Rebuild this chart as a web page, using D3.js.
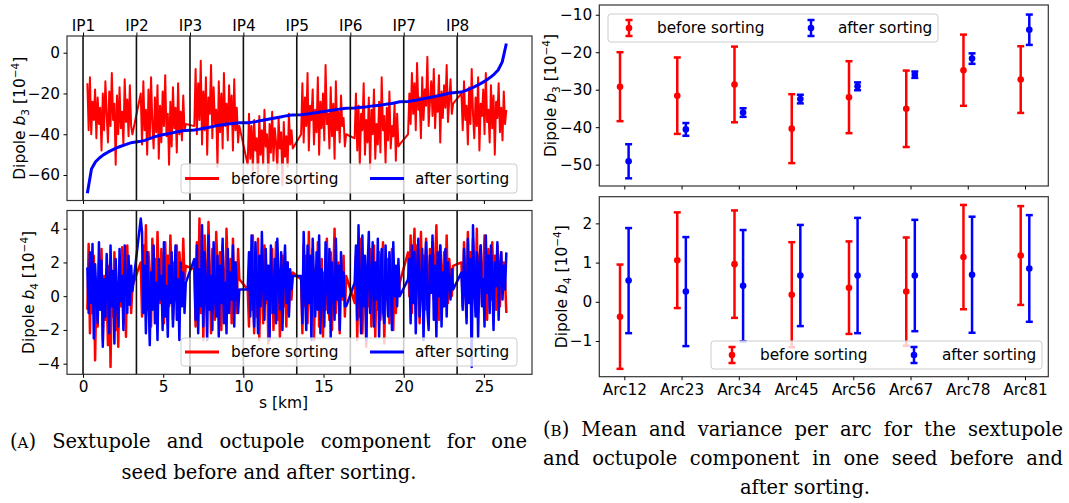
<!DOCTYPE html>
<html>
<head>
<meta charset="utf-8">
<script src="https://cdn.jsdelivr.net/npm/d3@7"></script>
<style>
  body { margin: 0; background: #fff; }
  text { font-family: "DejaVu Sans", sans-serif; fill: #000; }
  .cap { font-family: "DejaVu Serif", serif; }
</style>
</head>
<body>
<svg id="fig" width="1069" height="503"></svg>
<script>
// interaction points and arcs (km)
const ipNames = ["IP1", "IP2", "IP3", "IP4", "IP5", "IP6", "IP7", "IP8"];
const ipPos = [0, 3.33, 6.67, 10.0, 13.33, 16.67, 20.0, 23.33];
const arcNames = ["Arc12", "Arc23", "Arc34", "Arc45", "Arc56", "Arc67", "Arc78", "Arc81"];
const arcStart = [0.27, 3.6, 6.94, 10.27, 13.6, 16.94, 20.27, 23.6];
const arcEnd = [3.08, 6.41, 9.75, 13.08, 16.41, 19.75, 23.08, 26.4];

// b3 per magnet, before sorting
const b3Before = [
  [-15, -38, -12, -40, -24, -33, -18, -42, -22, -35, -27, -48, -20, -38, -14, -30, -44, -19, -36, -10, -33, -25, -55, -21, -40, -17, -37, -29, -45, -13, -34, -23, -41, -16, -36, -40],
  [-20, -45, -14, -38, -28, -50, -18, -42, -12, -35, -47, -22, -39, -16, -52, -26, -44, -19, -36, -11, -41, -30, -55, -24, -46, -17, -37, -27, -49, -15, -40, -29, -43, -21, -38, -35],
  [-36, -8, -40, -15, -33, -4, -45, -19, -38, -12, -50, -22, -30, -6, -42, -17, -35, -28, -56, -14, -39, -20, -47, -10, -36, -25, -43, -16, -34, -21, -48, -13, -38, -27, -44, -36],
  [-55, -30, -52, -36, -58, -33, -48, -42, -62, -31, -50, -38, -55, -28, -46, -40, -60, -35, -49, -29, -53, -37, -44, -57, -32, -47, -39, -65, -34, -51, -41, -56, -30, -45, -38, -47],
  [-40, -15, -44, -22, -36, -10, -48, -26, -33, -18, -45, -28, -39, -12, -50, -24, -37, -20, -43, -6, -35, -30, -47, -17, -41, -25, -52, -14, -38, -29, -44, -21, -36, -32, -46, -40],
  [-42, -20, -48, -26, -55, -30, -38, -15, -50, -33, -44, -22, -57, -28, -40, -18, -52, -35, -45, -24, -49, -12, -38, -31, -54, -27, -43, -19, -47, -36, -41, -25, -53, -30, -46, -45],
  [-40, -20, -35, -10, -30, -15, -38, -5, -28, -22, -42, -12, -33, -18, -26, -2, -36, -24, -14, -31, -8, -37, -21, -29, -11, -44, -19, -32, -16, -27, -6, -34, -23, -13, -30, -25],
  [-20, -38, -14, -33, -26, -45, -17, -35, -8, -30, -42, -22, -36, -12, -48, -25, -31, -18, -40, -10, -34, -28, -44, -16, -37, -21, -50, -24, -32, -15, -39, -27, -43, -19, -35, -28]
];

// b3 after sorting (sorted along the ring)
const b3After = [
  [-69, -57, -53.5, -51.5, -50, -48.8, -47.8, -46.8, -46, -45.3, -44.6, -44.0],
  [-43.4, -43.0, -42.3, -41.5, -40.9, -40.4, -40.0, -39.6, -39.2, -38.8, -38.4, -38.1],
  [-37.9, -37.6, -37.2, -36.8, -36.4, -36.0, -35.6, -35.3, -35.0, -34.8, -34.6, -34.4],
  [-34.3, -34.1, -33.8, -33.4, -33.0, -32.6, -32.3, -31.9, -31.5, -31.1, -30.8, -30.5],
  [-30.4, -30.2, -29.9, -29.6, -29.3, -29.0, -28.7, -28.4, -28.1, -27.8, -27.5, -27.3],
  [-27.1, -26.9, -26.7, -26.5, -26.2, -26.0, -25.8, -25.5, -25.2, -24.9, -24.5, -24.1],
  [-23.9, -23.6, -23.3, -22.9, -22.5, -22.1, -21.7, -21.3, -20.9, -20.4, -19.9, -19.6],
  [-19.3, -18.6, -17.8, -16.9, -15.9, -14.8, -13.6, -12.2, -10.6, -8.5, -4.5, 4.5]
];

// b4 per magnet, before sorting
const b4Before = [
  [-0.8, 3.1, -2.2, 1.5, -1.0, 2.4, -3.8, 0.6, -1.8, 2.0, -0.4, 2.8, -2.6, 1.2, -1.4, 0.2, -2.9, 1.8, -4.2, 0.9, -1.2, 2.6, -2.0, 0.4, -3.0, 1.6, -0.6, 2.9, -1.6, 0.8, -2.4, 3.0, -0.2, 1.4, -1.0, 0.6],
  [2.0, -1.2, 3.0, 0.4, 4.2, -0.8, 2.6, 1.0, -1.8, 3.4, 0.2, 2.2, -1.0, 3.8, 0.8, -0.4, 2.8, 1.4, -1.6, 3.2, 0.6, 2.4, -0.6, 3.6, 1.2, -1.4, 2.0, 0.0, 3.0, -0.8, 2.6, 1.6, -0.2, 3.4, 1.0, 1.8],
  [1.6, -1.8, 3.2, 0.2, 4.6, -1.0, 2.4, -2.6, 3.6, 0.8, -0.6, 4.4, 1.2, -2.2, 2.8, 0.4, -1.4, 3.8, 1.8, -0.8, 2.6, -2.0, 3.0, 0.6, -1.2, 4.0, 1.4, -0.4, 2.2, -1.6, 3.4, 0.0, 2.0, -1.0, 2.8, 1.0],
  [0.4, -1.8, 2.6, -0.8, 3.6, -2.2, 1.4, -1.2, 3.4, -2.6, 0.8, 2.2, -1.6, 3.0, -0.4, 1.8, -2.8, 1.0, -1.0, 2.8, -2.0, 0.6, 3.2, -1.4, 1.6, -2.4, 0.2, 2.4, -0.6, 1.2, -1.8, 2.0, -1.0, 1.4, -0.2, 1.4],
  [1.0, -2.2, 3.0, -0.6, 2.4, -1.6, 3.8, 0.2, -1.2, 2.8, -2.6, 1.6, -0.4, 3.2, -1.8, 0.8, 2.2, -2.4, 1.4, -0.8, 3.4, 0.0, -1.4, 2.6, -2.0, 1.2, 4.0, -1.0, 0.6, 2.0, -2.2, 1.8, -0.2, 2.4, -1.2, 1.2],
  [-0.4, 2.4, -2.6, 1.6, -1.2, 3.4, -2.2, 0.8, 2.0, -3.0, 1.2, -0.6, 2.8, -1.8, 0.4, 3.0, -2.4, 1.0, -0.8, 2.6, -1.4, 0.2, 3.2, -2.8, 1.4, -0.2, 2.2, -1.6, 0.6, 2.8, -2.0, 1.8, -1.0, 1.2, 0.0, 0.8],
  [2.6, 0.0, 3.6, -1.0, 2.2, 4.0, -0.4, 3.0, 1.0, -1.6, 3.8, 0.6, 2.4, -0.8, 3.4, 1.4, -1.2, 2.8, 0.2, 3.2, -0.2, 2.0, 4.2, 0.8, -1.4, 3.0, 1.6, -0.6, 2.6, 0.4, 3.6, -0.4, 2.2, 1.2, 0.0, 1.8],
  [2.0, -0.6, 3.2, 1.0, -1.2, 3.8, 0.4, 2.6, -0.8, 3.4, 1.6, 0.0, 4.0, -1.0, 2.2, 3.0, -0.4, 1.4, 3.6, 0.6, -1.4, 2.8, 1.2, -0.2, 3.2, 0.8, 2.4, -0.8, 3.0, 1.8, -0.6, 2.6, 0.2, 2.0, 1.0, -1.0]
];

// b4 per magnet, after sorting
const b4After = [
  [1.7, -1.0, 2.6, -0.4, 3.1, -2.5, 1.9, 0.2, -1.6, 3.2, -0.8, 2.1, -3.0, 1.0, -1.2, 2.5, 0.4, -2.2, 3.0, -0.6, 1.5, -2.8, 2.2, 0.0, -1.8, 2.8, -0.3, 1.2, -2.0, 3.0, 0.6, -1.0, 2.4, -0.5, 1.8, 0.3],
  [4.6, 3.8, -1.0, 1.8, -2.2, 2.6, 0.2, -2.9, 1.4, -0.8, 3.0, -1.6, 0.8, -2.6, 2.2, -0.2, 1.2, -2.0, 3.2, -1.2, 0.6, -2.4, 1.8, -0.4, 2.6, -1.8, 0.2, 3.0, -1.4, 1.0, -2.6, 2.0, -0.6, 1.4, -1.0, 0.8],
  [2.2, -1.4, 3.0, -2.2, 1.6, -0.6, 4.2, -1.8, 2.6, 0.4, -2.6, 3.6, -0.8, 1.2, -2.0, 3.2, 0.0, -1.2, 2.4, -2.4, 1.8, -0.4, 3.4, -1.6, 0.8, -2.2, 2.8, -1.0, 1.4, -0.2, 3.0, -1.8, 2.0, 0.6, -1.0, 0.4],
  [0.4, 2.6, -1.2, 3.6, 0.0, -1.8, 3.2, 1.0, -2.2, 2.4, -0.6, 3.8, 0.6, -1.4, 2.8, -0.2, 1.8, -2.6, 3.0, 0.2, -1.0, 2.2, -1.6, 3.4, 0.8, -0.8, 2.6, -2.0, 1.4, 3.0, -0.4, 2.0, -1.2, 1.6, 0.4, 1.2],
  [1.2, -1.6, 3.8, 0.4, -2.0, 3.0, -0.4, 2.4, -2.6, 3.4, 0.8, -1.2, 2.6, -0.8, 3.6, -2.2, 1.6, 0.2, -1.8, 3.2, 1.0, -1.0, 2.8, -2.4, 2.0, 0.6, -1.4, 3.4, -0.2, 1.8, -2.0, 2.6, 0.0, 1.4, -0.6, -0.6],
  [0.8, 3.0, -1.4, 4.2, 0.2, -2.2, 3.6, -0.6, 2.4, -2.6, 1.6, 3.8, -1.0, 0.6, 3.2, -1.8, 2.0, -0.2, 3.4, -2.4, 1.2, 2.8, -0.8, -1.6, 3.0, 0.4, -1.2, 2.6, 1.0, -2.0, 3.2, 0.0, 1.8, -0.6, 2.2, 0.0],
  [1.0, 2.2, -1.6, 3.0, -0.4, 2.6, -2.2, 1.6, 3.4, -1.2, 0.4, 2.8, -2.6, 1.2, 3.2, -0.8, -2.0, 2.4, 0.2, 3.6, -1.4, 1.8, -2.4, 2.6, 0.0, 3.0, -1.8, 1.4, -0.6, 2.8, -1.2, 2.0, 0.8, -0.2, 1.6, 0.4],
  [1.4, -0.8, 2.8, 0.4, -1.6, 3.4, -0.4, 2.2, -4.2, 4.2, 0.8, -1.2, 2.6, -2.4, 1.8, 3.0, -0.6, 1.0, -1.8, 3.6, 0.2, 2.4, -1.0, 3.0, 1.2, -2.0, 2.0, 0.6, 3.2, -1.4, 1.6, 2.6, -0.2, 1.8, 0.4, 2.6]
];

// mean and spread per arc (10^-4)
const b3MeanBefore = [-29.2, -31.6, -28.6, -40.4, -32.0, -35.1, -24.8, -27.3];
const b3ErrBefore = [9.2, 10.2, 10.1, 9.2, 9.6, 10.2, 9.5, 8.9];
const b3MeanAfter = [-49.1, -40.6, -36.1, -32.5, -29.1, -26.0, -21.7, -14.0];
const b3ErrAfter = [4.55, 1.7, 1.15, 1.15, 1.05, 0.85, 1.4, 4.05];
const b4MeanBefore = [-0.38, 1.06, 0.96, 0.18, 0.36, 0.26, 1.14, 1.18];
const b4ErrBefore = [1.33, 1.22, 1.37, 1.34, 1.18, 1.38, 1.33, 1.26];
const b4MeanAfter = [0.54, 0.26, 0.41, 0.67, 0.67, 0.67, 0.69, 0.85];
const b4ErrAfter = [1.34, 1.39, 1.42, 1.29, 1.47, 1.42, 1.48, 1.36];

const RED = "#ff0000", BLUE = "#0000ff", FRAME = "#333";
const TICK_FS = "15.3px", LABEL_FS = "15.5px", LEG_FS = "15.3px";
const CAP_FS = "19.5px", CAP_SC_FS = "15px";

const svg = d3.select("#fig");
const num = d3.format("");

// flatten per-arc lists into (s, value) points along the ring
function alongRing(perArc) {
  const pts = [];
  perArc.forEach((vals, k) => {
    const step = (arcEnd[k] - arcStart[k]) / (vals.length - 1);
    vals.forEach((v, i) => pts.push({ s: arcStart[k] + i * step, v: v }));
  });
  return pts;
}

function frame(g, x0, x1, y0, y1) {
  g.append("rect")
    .attr("x", x0).attr("y", y0)
    .attr("width", x1 - x0).attr("height", y1 - y0)
    .attr("fill", "none").attr("stroke", FRAME).attr("stroke-width", 1.2);
}

function styleAxis(sel, showLabels) {
  sel.select(".domain").remove();
  sel.selectAll(".tick line").attr("stroke", "#000").attr("stroke-width", 1);
  sel.selectAll(".tick text")
    .style("font-size", TICK_FS)
    .style("font-family", "DejaVu Sans")
    .attr("fill", "#000");
  if (!showLabels) sel.selectAll(".tick text").remove();
}

function yLabel(x, y, sub) {
  const t = svg.append("text")
    .attr("transform", `translate(${x},${y}) rotate(-90)`)
    .attr("text-anchor", "middle")
    .attr("dy", "0.35em")
    .style("font-size", LABEL_FS);
  t.append("tspan").text("Dipole ");
  t.append("tspan").style("font-style", "italic").text("b");
  t.append("tspan").attr("dy", 4).style("font-size", "10.5px").text(sub);
  t.append("tspan").attr("dy", -4).text(" [10");
  t.append("tspan").attr("dy", -6).style("font-size", "10.5px").text("\u22124");
  t.append("tspan").attr("dy", 6).text("]");
}

function legend(box, items) {
  const g = svg.append("g");
  g.append("rect")
    .attr("x", box.x).attr("y", box.y)
    .attr("width", box.w).attr("height", box.h)
    .attr("rx", 3)
    .attr("fill", "#fff").attr("fill-opacity", 0.8)
    .attr("stroke", "#ccc").attr("stroke-width", 1);
  const cy = box.y + box.h / 2;
  items.forEach(it => {
    if (it.kind === "line") {
      g.append("line")
        .attr("x1", it.hx - 17).attr("x2", it.hx + 17)
        .attr("y1", cy).attr("y2", cy)
        .attr("stroke", it.color).attr("stroke-width", 3);
    } else {
      g.append("line")
        .attr("x1", it.hx).attr("x2", it.hx)
        .attr("y1", cy - 8).attr("y2", cy + 8)
        .attr("stroke", it.color).attr("stroke-width", 2.5);
      [cy - 8, cy + 8].forEach(yy => g.append("line")
        .attr("x1", it.hx - 3.5).attr("x2", it.hx + 3.5)
        .attr("y1", yy).attr("y2", yy)
        .attr("stroke", it.color).attr("stroke-width", 2.5));
      g.append("circle").attr("cx", it.hx).attr("cy", cy).attr("r", 3.3).attr("fill", it.color);
    }
    g.append("text")
      .attr("x", it.tx).attr("y", cy)
      .attr("dy", "0.35em")
      .style("font-size", LEG_FS)
      .text(it.label);
  });
}

// ---------- panel A ----------
const A = { x0: 67, x1: 532 };
const sX = d3.scaleLinear().domain([-1.0, 28.0]).range([A.x0, A.x1]);

const panelsA = [
  { y0: 36, y1: 200.5, domain: [-72.5, 8.2], ticks: [-60, -40, -20, 0], sub: "3", labX: 20,
    series: [{ data: b3Before, color: RED, w: 2.0 }, { data: b3After, color: BLUE, w: 3.0 }],
    leg: { x: 181, y: 164, w: 336, h: 29 } },
  { y0: 210.5, y1: 374.3, domain: [-4.63, 5.08], ticks: [-4, -2, 0, 2, 4], sub: "4", labX: 29,
    series: [{ data: b4Before, color: RED, w: 2.5 }, { data: b4After, color: BLUE, w: 2.5 }],
    leg: { x: 181, y: 338, w: 336, h: 28 } }
];

panelsA.forEach((p, pi) => {
  const y = d3.scaleLinear().domain(p.domain).range([p.y1, p.y0]);
  const clipId = "clipA" + pi;
  svg.append("clipPath").attr("id", clipId)
    .append("rect").attr("x", A.x0).attr("y", p.y0).attr("width", A.x1 - A.x0).attr("height", p.y1 - p.y0);
  const plot = svg.append("g").attr("clip-path", `url(#${clipId})`);
  const line = d3.line().x(d => sX(d.s)).y(d => y(d.v));
  p.series.forEach(sr => {
    plot.append("path")
      .datum(alongRing(sr.data))
      .attr("d", line)
      .attr("fill", "none")
      .attr("stroke", sr.color)
      .attr("stroke-width", sr.w)
      .attr("stroke-linejoin", "round");
  });
  // IP markers
  plot.selectAll(".ip").data(ipPos).enter().append("line")
    .attr("x1", d => sX(d)).attr("x2", d => sX(d))
    .attr("y1", p.y0).attr("y2", p.y1)
    .attr("stroke", "#111").attr("stroke-width", 1.6);

  legend(p.leg, [
    { kind: "line", color: RED, hx: 202, tx: 231, label: "before sorting" },
    { kind: "line", color: BLUE, hx: 387, tx: 415, label: "after sorting" }
  ]);

  frame(svg, A.x0, A.x1, p.y0, p.y1);
  svg.append("g").attr("transform", `translate(${A.x0},0)`)
    .call(d3.axisLeft(y).tickValues(p.ticks).tickFormat(num).tickSize(3.5).tickPadding(3.5))
    .call(s => styleAxis(s, true));
  svg.append("g").attr("transform", `translate(0,${p.y1})`)
    .call(d3.axisBottom(sX).tickValues([0, 5, 10, 15, 20, 25]).tickFormat(num).tickSize(3.5).tickPadding(3.5))
    .call(s => styleAxis(s, pi === 1));
  yLabel(p.labX, (p.y0 + p.y1) / 2, p.sub);
});

// IP names on the top axis
svg.append("g").attr("transform", `translate(0,${panelsA[0].y0})`)
  .call(d3.axisTop(sX).tickValues(ipPos).tickFormat((d, i) => ipNames[i]).tickSize(3.5).tickPadding(2))
  .call(s => styleAxis(s, true));

svg.append("text")
  .attr("x", sX(12.5)).attr("y", 403).attr("dy", "0.35em")
  .attr("text-anchor", "middle").style("font-size", LABEL_FS)
  .text("s [km]");

// ---------- panel B ----------
const B = { x0: 599.3, x1: 1048.3 };
const arcX = d3.scaleLinear().domain([-0.437, 7.407]).range([B.x0, B.x1]);
const shift = 0.075;

const panelsB = [
  { y0: 5, y1: 186, domain: [-55.7, -7.4], ticks: [-50, -40, -30, -20, -10], sub: "3", labX: 551,
    before: [b3MeanBefore, b3ErrBefore], after: [b3MeanAfter, b3ErrAfter],
    leg: { x: 608, y: 14, w: 330, h: 28 }, hx: [629, 811], tx: [657, 838] },
  { y0: 196.7, y1: 376.7, domain: [-1.91, 2.68], ticks: [-1, 0, 1, 2], sub: "4", labX: 562,
    before: [b4MeanBefore, b4ErrBefore], after: [b4MeanAfter, b4ErrAfter],
    leg: { x: 711, y: 341, w: 331, h: 28 }, hx: [732, 914], tx: [760, 942] }
];

function errorbars(g, y, means, errs, dx, color) {
  const grp = g.append("g");
  means.forEach((m, i) => {
    const x = arcX(i + dx);
    const top = y(m + errs[i]), bot = y(m - errs[i]);
    grp.append("line").attr("x1", x).attr("x2", x).attr("y1", top).attr("y2", bot)
      .attr("stroke", color).attr("stroke-width", 2.5);
    [top, bot].forEach(yy => grp.append("line")
      .attr("x1", x - 3.5).attr("x2", x + 3.5).attr("y1", yy).attr("y2", yy)
      .attr("stroke", color).attr("stroke-width", 2.5));
    grp.append("circle").attr("cx", x).attr("cy", y(m)).attr("r", 3.3).attr("fill", color);
  });
}

panelsB.forEach((p, pi) => {
  const y = d3.scaleLinear().domain(p.domain).range([p.y1, p.y0]);
  errorbars(svg, y, p.before[0], p.before[1], -shift, RED);
  errorbars(svg, y, p.after[0], p.after[1], shift, BLUE);
  legend(p.leg, [
    { kind: "err", color: RED, hx: p.hx[0], tx: p.tx[0], label: "before sorting" },
    { kind: "err", color: BLUE, hx: p.hx[1], tx: p.tx[1], label: "after sorting" }
  ]);
  frame(svg, B.x0, B.x1, p.y0, p.y1);
  svg.append("g").attr("transform", `translate(${B.x0},0)`)
    .call(d3.axisLeft(y).tickValues(p.ticks).tickFormat(num).tickSize(3.5).tickPadding(3.5))
    .call(s => styleAxis(s, true));
  svg.append("g").attr("transform", `translate(0,${p.y1})`)
    .call(d3.axisBottom(arcX).tickValues(d3.range(arcNames.length)).tickFormat(i => arcNames[i]).tickSize(3.5).tickPadding(3.5))
    .call(s => styleAxis(s, pi === 1));
  yLabel(p.labX, (p.y0 + p.y1) / 2, p.sub);
});

// ---------- captions ----------
// a word is either plain text or a "(X)" label with a small-caps letter
function capWord(x, y, w) {
  const t = svg.append("text").attr("class", "cap").attr("x", x).attr("y", y).style("font-size", CAP_FS);
  if (w.letter) {
    t.append("tspan").text("(");
    t.append("tspan").style("font-size", CAP_SC_FS).text(w.letter);
    t.append("tspan").text(")");
  } else {
    t.text(w.text);
  }
  return t;
}

// justified line: spread the words so the line spans [x0, x0 + width]
function capJustified(x0, y, width, letter, text) {
  const words = (letter ? [{ letter: letter }] : []).concat(text.split(" ").map(s => ({ text: s })));
  const nodes = words.map(w => capWord(0, y, w));
  const widths = nodes.map(n => n.node().getComputedTextLength());
  const gap = (width - d3.sum(widths)) / (words.length - 1);
  let x = x0;
  nodes.forEach((n, i) => { n.attr("x", x); x += widths[i] + gap; });
}

function capCentered(cx, y, text) {
  capWord(cx, y, { text: text }).attr("text-anchor", "middle");
}

capJustified(10, 448, 517, "A", "Sextupole and octupole component for one");
capCentered(269, 479, "seed before and after sorting.");
capJustified(543, 436, 520, "B", "Mean and variance per arc for the sextupole");
capJustified(543, 465, 520, null, "and octupole component in one seed before and");
capCentered(805, 494, "after sorting.");
</script>
</body>
</html>
